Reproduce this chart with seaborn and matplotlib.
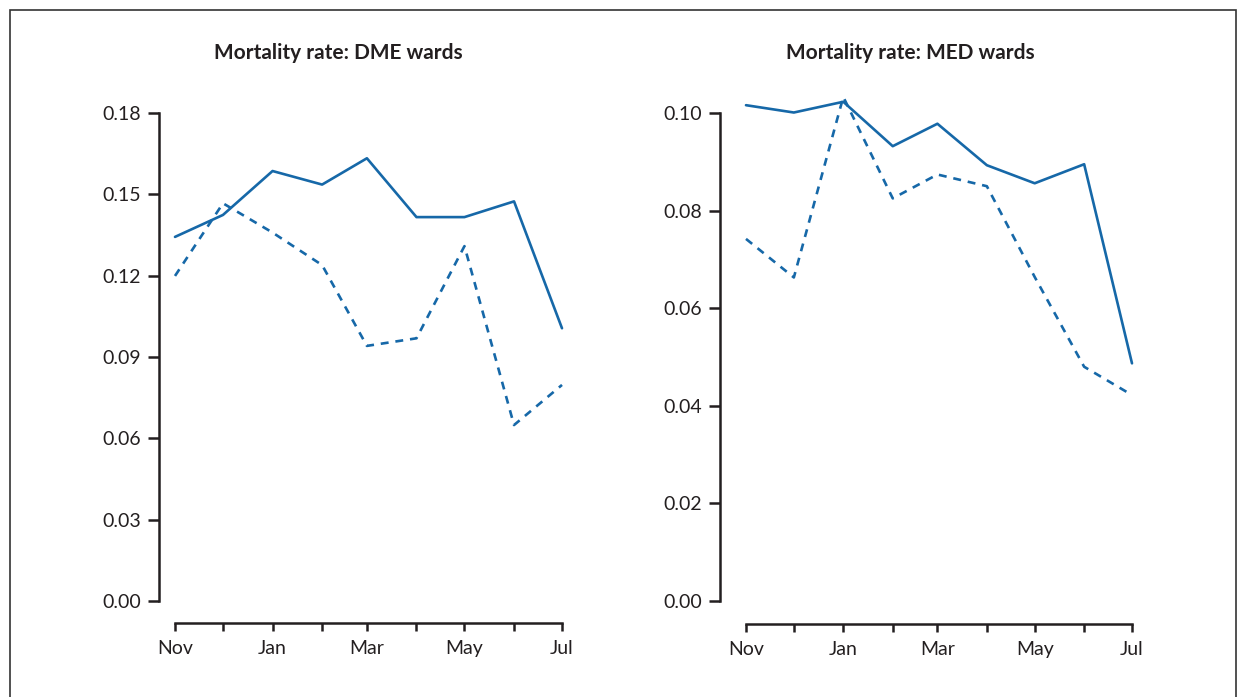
import matplotlib
matplotlib.use("Agg")
import matplotlib.pyplot as plt
import matplotlib.patches as mpatches
import seaborn as sns
import pandas as pd

months = ["2009-11-01", "2009-12-01", "2010-01-01", "2010-02-01", "2010-03-01",
          "2010-04-01", "2010-05-01", "2010-06-01", "2010-07-01"]
month_labels = ["Nov", "", "Jan", "", "Mar", "", "May", "", "Jul"]

dme_solid = [0.1343, 0.1424, 0.1586, 0.1536, 0.1633, 0.1416, 0.1416, 0.1474, 0.1006]
dme_dashed = [0.1199, 0.1467, 0.1359, 0.1239, 0.0941, 0.0969, 0.1309, 0.0649, 0.0797]
med_solid = [0.1016, 0.1001, 0.1023, 0.0932, 0.0978, 0.0893, 0.0856, 0.0895, 0.0487]
med_dashed = [0.0742, 0.0663, 0.1033, 0.0825, 0.0874, 0.0850, 0.0664, 0.0480, 0.0422]

dme_yticks = [0.00, 0.03, 0.06, 0.09, 0.12, 0.15, 0.18]
med_yticks = [0.00, 0.02, 0.04, 0.06, 0.08, 0.10]

titles = ["Mortality rate: DME wards", "Mortality rate: MED wards"]

sns.set_theme(style="white")
plt.rcParams["font.family"] = ["Lato", "DejaVu Sans"]

W, H = 1241, 697
fig = plt.figure(figsize=(W / 100, H / 100), dpi=100)

line_color = "#1668a8"
spine_color = "#231f20"

def make_df(solid, dashed):
    dates = pd.to_datetime(months)
    return pd.concat([
        pd.DataFrame({"month": dates, "rate": solid, "series": "Series 1"}),
        pd.DataFrame({"month": dates, "rate": dashed, "series": "Series 2"}),
    ], ignore_index=True)

panels = [
    (make_df(dme_solid, dme_dashed), dme_yticks, "{:.2f}", (175, 562, 113, 601), 16, 22, 338),
    (make_df(med_solid, med_dashed), med_yticks, "{:.2f}", (746, 1132, 113, 601), 26, 23, 910),
]

for (df, yticks, fmt, (x0, x1, yt, yb), loff, boff, tx), title in zip(panels, titles):
    ax = fig.add_axes([x0 / W, (H - yb) / H, (x1 - x0) / W, (yb - yt) / H])
    sns.lineplot(data=df, x="month", y="rate", style="series",
                 dashes={"Series 1": "", "Series 2": (3.0, 2.6)},
                 color=line_color, linewidth=1.9, legend=False, ax=ax)
    for ln in ax.lines:
        ln.set_clip_on(False)
    dates = pd.to_datetime(months)
    ax.set_xlim(dates[0], dates[-1])
    ax.set_ylim(yticks[0], yticks[-1])
    ax.set_xticks(dates)
    ax.set_xticklabels(month_labels)
    ax.set_yticks(yticks)
    ax.set_yticklabels([fmt.format(v) for v in yticks])
    ax.set_xlabel("")
    ax.set_ylabel("")
    for s in ["top", "right"]:
        ax.spines[s].set_visible(False)
    ax.spines["left"].set_position(("outward", loff * 0.72))
    ax.spines["bottom"].set_position(("outward", boff * 0.72))
    for s in ["left", "bottom"]:
        ax.spines[s].set_color(spine_color)
        ax.spines[s].set_linewidth(1.8)
    ax.tick_params(axis="y", which="major", direction="out", length=8, width=1.8,
                   color=spine_color, labelsize=14, labelcolor=spine_color, pad=5, left=True)
    ax.tick_params(axis="x", which="major", direction="out", length=6, width=1.8,
                   color=spine_color, labelsize=14, labelcolor=spine_color, pad=6, bottom=True)
    ax.set_facecolor("none")
    fig.text(tx / W, (H - 53) / H, title, ha="center", va="center",
             fontsize=15, fontweight="bold", color=spine_color)

frame = mpatches.Rectangle((10 / W, -0.05), (1236 - 10) / W, (H - 10) / H + 0.05,
                           transform=fig.transFigure, fill=False,
                           edgecolor="#333333", linewidth=1.2)
fig.patches.append(frame)

fig.savefig("out.png", dpi=100)
